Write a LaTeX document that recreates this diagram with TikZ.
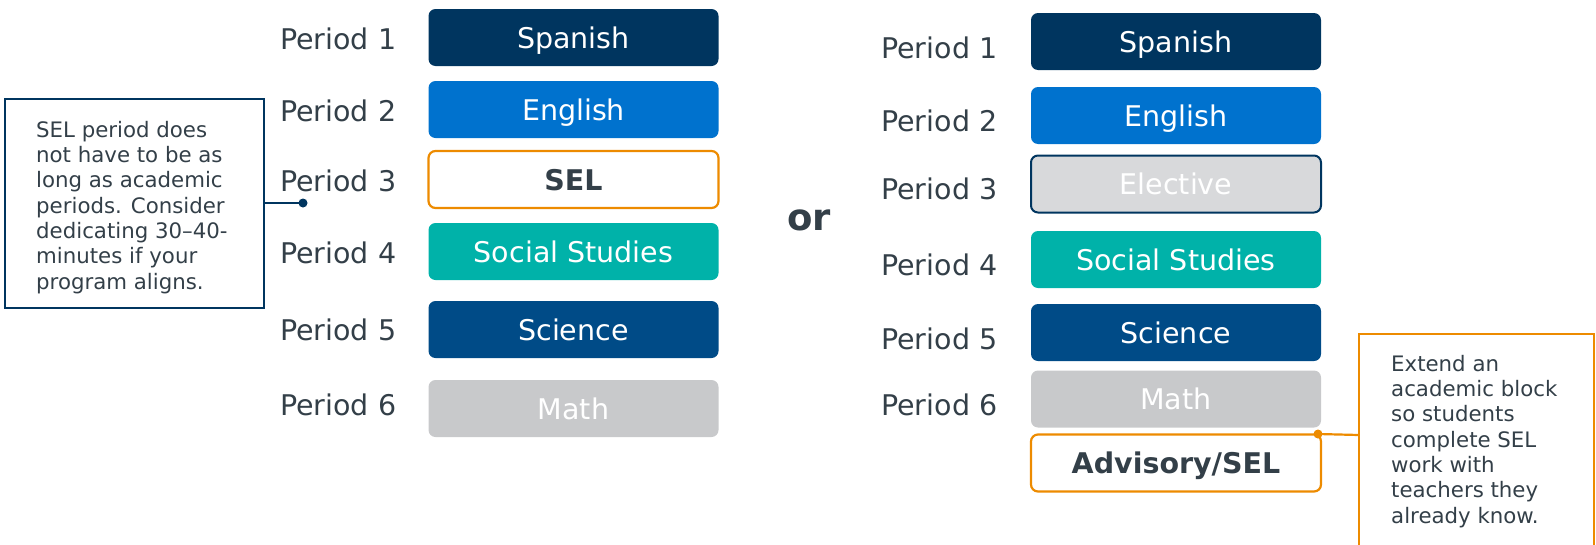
\documentclass[tikz,border=0pt]{standalone}
\usepackage{fontspec}
\setmainfont{DejaVu Sans}
\usetikzlibrary{calc}

\definecolor{inknavy}{RGB}{0,53,95}
\definecolor{inkblue}{RGB}{0,114,206}
\definecolor{inkteal}{RGB}{0,178,169}
\definecolor{inksci}{RGB}{0,75,135}
\definecolor{inkgray}{RGB}{200,201,203}
\definecolor{inkelec}{RGB}{216,217,219}
\definecolor{inkorange}{RGB}{237,139,0}
\definecolor{inktext}{RGB}{51,63,72}

\tikzset{
	slot/.style={rounded corners=7pt, minimum width=290pt, minimum height=57pt,
		inner sep=0pt, text height=21pt, text depth=0pt, text=white,
		font=\fontsize{28.5}{34}\selectfont},
	selslot/.style={slot, draw=inkorange, line width=2.2pt, fill=white,
		text=inktext, font=\fontsize{28.5}{34}\selectfont\bfseries},
	period/.style={anchor=west, inner sep=0pt, text=inktext,
		font=\fontsize{28.5}{34}\selectfont},
	note/.style={anchor=north west, inner sep=0pt, align=left, text=inktext,
		font=\fontsize{21.3}{25.3}\selectfont}
}

\begin{document}
\begin{tikzpicture}[x=1pt,y=-1pt]
		%%%%% START %%%%%
		\useasboundingbox (0,0) rectangle (1596,544);
		
		% first timetable
		\node[period] (pL1) at (280,39) {Period 1};
		\node[period] (pL2) at (280,111) {Period 2};
		\node[period] (pL3) at (280,181) {Period 3};
		\node[period] (pL4) at (280,253) {Period 4};
		\node[period] (pL5) at (280,330) {Period 5};
		\node[period] (pL6) at (280,405) {Period 6};
		
		\node[slot, fill=inknavy] (spanL) at (573.5,37.5) {Spanish};
		\node[slot, fill=inkblue] (engL) at (573.5,109.5) {English};
		\node[selslot] (selL) at (573.5,179.5) {SEL};
		\node[slot, fill=inkteal] (socL) at (573.5,251.5) {Social Studies};
		\node[slot, fill=inksci] (sciL) at (573.5,329.5) {Science};
		\node[slot, fill=inkgray] (mathL) at (573.5,408.5) {Math};
		
		\node[font=\fontsize{37}{40}\selectfont\bfseries, text=inktext] (orword) at (809,220) {or};
		
		% second timetable
		\node[period] (pR1) at (881,48) {Period 1};
		\node[period] (pR2) at (881,121) {Period 2};
		\node[period] (pR3) at (881,189) {Period 3};
		\node[period] (pR4) at (881,265) {Period 4};
		\node[period] (pR5) at (881,339) {Period 5};
		\node[period] (pR6) at (881,405) {Period 6};
		
		\node[slot, fill=inknavy] (spanR) at (1176,41.5) {Spanish};
		\node[slot, fill=inkblue] (engR) at (1176,115.5) {English};
		\node[slot, fill=inkelec, draw=inknavy, line width=2pt] (elecR) at (1176,184) {Elective};
		\node[slot, fill=inkteal] (socR) at (1176,259.5) {Social Studies};
		\node[slot, fill=inksci] (sciR) at (1176,332.5) {Science};
		\node[slot, fill=inkgray] (mathR) at (1176,399) {Math};
		\node[selslot] (advR) at (1176,463) {Advisory/SEL};
		
		% left callout
		\draw[inknavy, line width=2.2pt] (5,99) rectangle (264,308);
		\node[note] (noteL) at (36,121) {SEL period does\\not have to be as\\long as academic\\periods. Consider\\dedicating 30--40-\\minutes if your\\program aligns.};
		\coordinate (dotL) at (303,203);
		\draw[inknavy, line width=2.2pt] (264,203) -- (dotL);
		\fill[inknavy] (dotL) circle (4.5pt);
		
		% right callout, runs off the bottom edge
		\draw[inkorange, line width=2.2pt] (1359,546) -- (1359,334) -- (1594,334) -- (1594,546);
		\node[note] (noteR) at (1391,355) {Extend an\\academic block\\so students\\complete SEL\\work with\\teachers they\\already know.};
		\coordinate (dotR) at (1318,434);
		\draw[inkorange, line width=2.2pt] (dotR) -- (1359,435);
		\fill[inkorange] (dotR) circle (4.5pt);
		
		%%%%% END %%%%%
	\end{tikzpicture}
\end{document}
